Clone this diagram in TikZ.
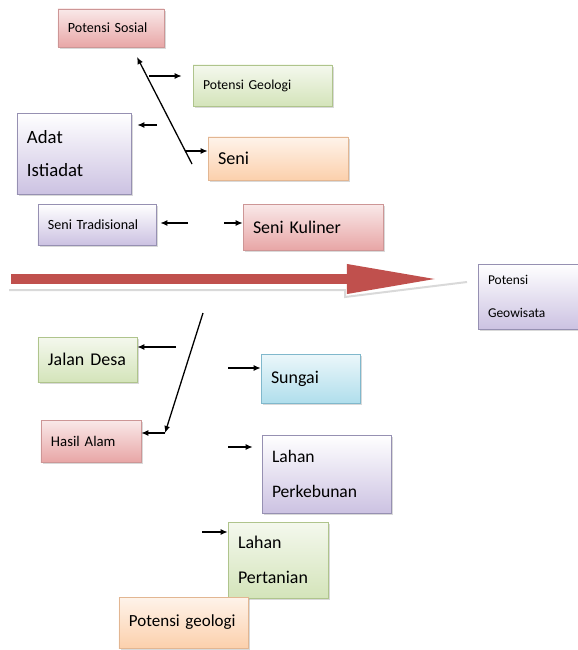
\documentclass[tikz,border=0pt]{standalone}
\usepackage{fontspec}
\setmainfont{Carlito}
\usepackage{xcolor}
\usepackage{tikz}
\usetikzlibrary{shapes,arrows,arrows.meta,shadows}
\definecolor{rosy}{RGB}{232,166,166}
\definecolor{rosyline}{RGB}{205,150,150}
\definecolor{leaf}{RGB}{212,228,186}
\definecolor{leafline}{RGB}{175,196,140}
\definecolor{lilac}{RGB}{204,194,226}
\definecolor{lilacline}{RGB}{150,144,178}
\definecolor{peach}{RGB}{252,208,172}
\definecolor{peachline}{RGB}{226,182,146}
\definecolor{sky}{RGB}{176,222,236}
\definecolor{skyline}{RGB}{128,184,204}
\definecolor{bigred}{RGB}{192,80,77}
\newcommand{\boxfont}[2]{\fontsize{#1}{#2}\selectfont}

\begin{document}
\begin{tikzpicture}[
  x=0.03cm,y=-0.03cm,
  box/.style={rectangle,inner xsep=0.3cm,inner ysep=0pt,align=left,
    drop shadow={shadow xshift=0.05cm,shadow yshift=-0.05cm,opacity=0.3}},
  redbox/.style={box,draw=rosyline,top color=rosy!25,bottom color=rosy},
  greenbox/.style={box,draw=leafline,top color=leaf!25,bottom color=leaf},
  purplebox/.style={box,draw=lilacline,top color=white,bottom color=lilac},
  orangebox/.style={box,draw=peachline,top color=peach!25,bottom color=peach},
  bluebox/.style={box,draw=skyline,top color=sky!25,bottom color=sky},
  arr/.style={-{Latex[length=6pt,width=5pt]},line width=1.1pt},
  bigarr/.style={draw=bigred,line width=0.3cm,-{Triangle[length=2.79cm,width=0.81cm]},shorten >=1.14cm}
]
  \useasboundingbox (0,0) rectangle (577,650);
  % upper branch
  \node[redbox,minimum height=1.14cm,text width=2.58cm,font=\boxfont{12}{14}] (sosial) at (111,28) {Potensi Sosial};
  \node[greenbox,minimum height=1.23cm,text width=3.57cm,font=\boxfont{11.7}{14}] (geologi) at (262.5,85.5) {Potensi Geologi};
  \node[purplebox,minimum height=2.43cm,text width=2.82cm,font=\boxfont{16}{28}] (adat) at (74,153.5) {Adat\\Istiadat};
  \node[orangebox,minimum height=1.29cm,text width=3.6cm,font=\boxfont{15.5}{18}] (seni) at (278,158.5) {Seni};
  \node[purplebox,minimum height=1.23cm,text width=2.94cm,font=\boxfont{12}{14}] (senitrad) at (97,224.5) {Seni Tradisional};
  \node[redbox,minimum height=1.38cm,text width=3.6cm,font=\boxfont{15.3}{18}] (kuliner) at (313,227) {Seni Kuliner};
  % head
  \node[purplebox,minimum height=1.95cm,text width=2.4cm,font=\boxfont{11.5}{28}] (geo) at (528,296.5) {Potensi\\Geowisata};
  % lower branch
  \node[greenbox,minimum height=1.35cm,text width=2.37cm,font=\boxfont{15.3}{18}] (jalan) at (87.5,359.5) {Jalan Desa};
  \node[redbox,minimum height=1.26cm,text width=2.4cm,font=\boxfont{12.6}{14}] (hasil) at (91,441) {Hasil Alam};
  \node[bluebox,minimum height=1.47cm,text width=2.37cm,font=\boxfont{15.3}{18}] (sungai) at (310.5,378.5) {Sungai};
  \node[purplebox,minimum height=2.34cm,text width=3.27cm,font=\boxfont{15}{30}] (kebun) at (326.5,474) {Lahan\\Perkebunan};
  \node[greenbox,minimum height=2.28cm,text width=2.4cm,font=\boxfont{15.3}{30}] (tani) at (278,560) {Lahan\\Pertanian};
  \node[orangebox,minimum height=1.53cm,text width=3.27cm,font=\boxfont{14.5}{17}] (potgeo) at (183.5,622.5) {Potensi geologi};

  % main arrow
  \coordinate (bigtail) at (11,279);
  \draw[gray!30,line width=0.06cm] (9,290) -- (345,290) -- (345,297) -- (467,282);
  \draw[bigarr] (bigtail) -- (bigtail -| geo.west);

  % upper arrows
  \coordinate (up1) at (192,164);
  \coordinate (up2) at (137,57);
  \draw[arr] (up1) -- (up2);
  \coordinate (g1) at (149,76);
  \draw[arr,shorten >=0.33cm] (g1) -- (g1 -| geologi.west);
  \coordinate (a1) at (157,125);
  \draw[arr,shorten >=0.18cm] (a1) -- (a1 -| adat.east);
  \coordinate (s1) at (185,151);
  \draw[arr] (s1) -- (s1 -| seni.west);
  \coordinate (st1) at (188,223);
  \draw[arr,shorten >=0.12cm] (st1) -- (st1 -| senitrad.east);
  \coordinate (k1) at (224,223);
  \draw[arr] (k1) -- (k1 -| kuliner.west);

  % lower arrows
  \coordinate (lo1) at (203,313);
  \coordinate (lo2) at (165,433);
  \draw[arr] (lo1) -- (lo2);
  \draw[arr] (lo2) -- (lo2 -| hasil.east);
  \coordinate (j1) at (176,347);
  \draw[arr] (j1) -- (j1 -| jalan.east);
  \coordinate (sg1) at (228,368);
  \draw[arr] (sg1) -- (sg1 -| sungai.west);
  \coordinate (pk1) at (228,447);
  \draw[arr,shorten >=0.27cm] (pk1) -- (pk1 -| kebun.west);
  \coordinate (pt1) at (202,532);
  \draw[arr] (pt1) -- (pt1 -| tani.west);
\end{tikzpicture}
\end{document}
